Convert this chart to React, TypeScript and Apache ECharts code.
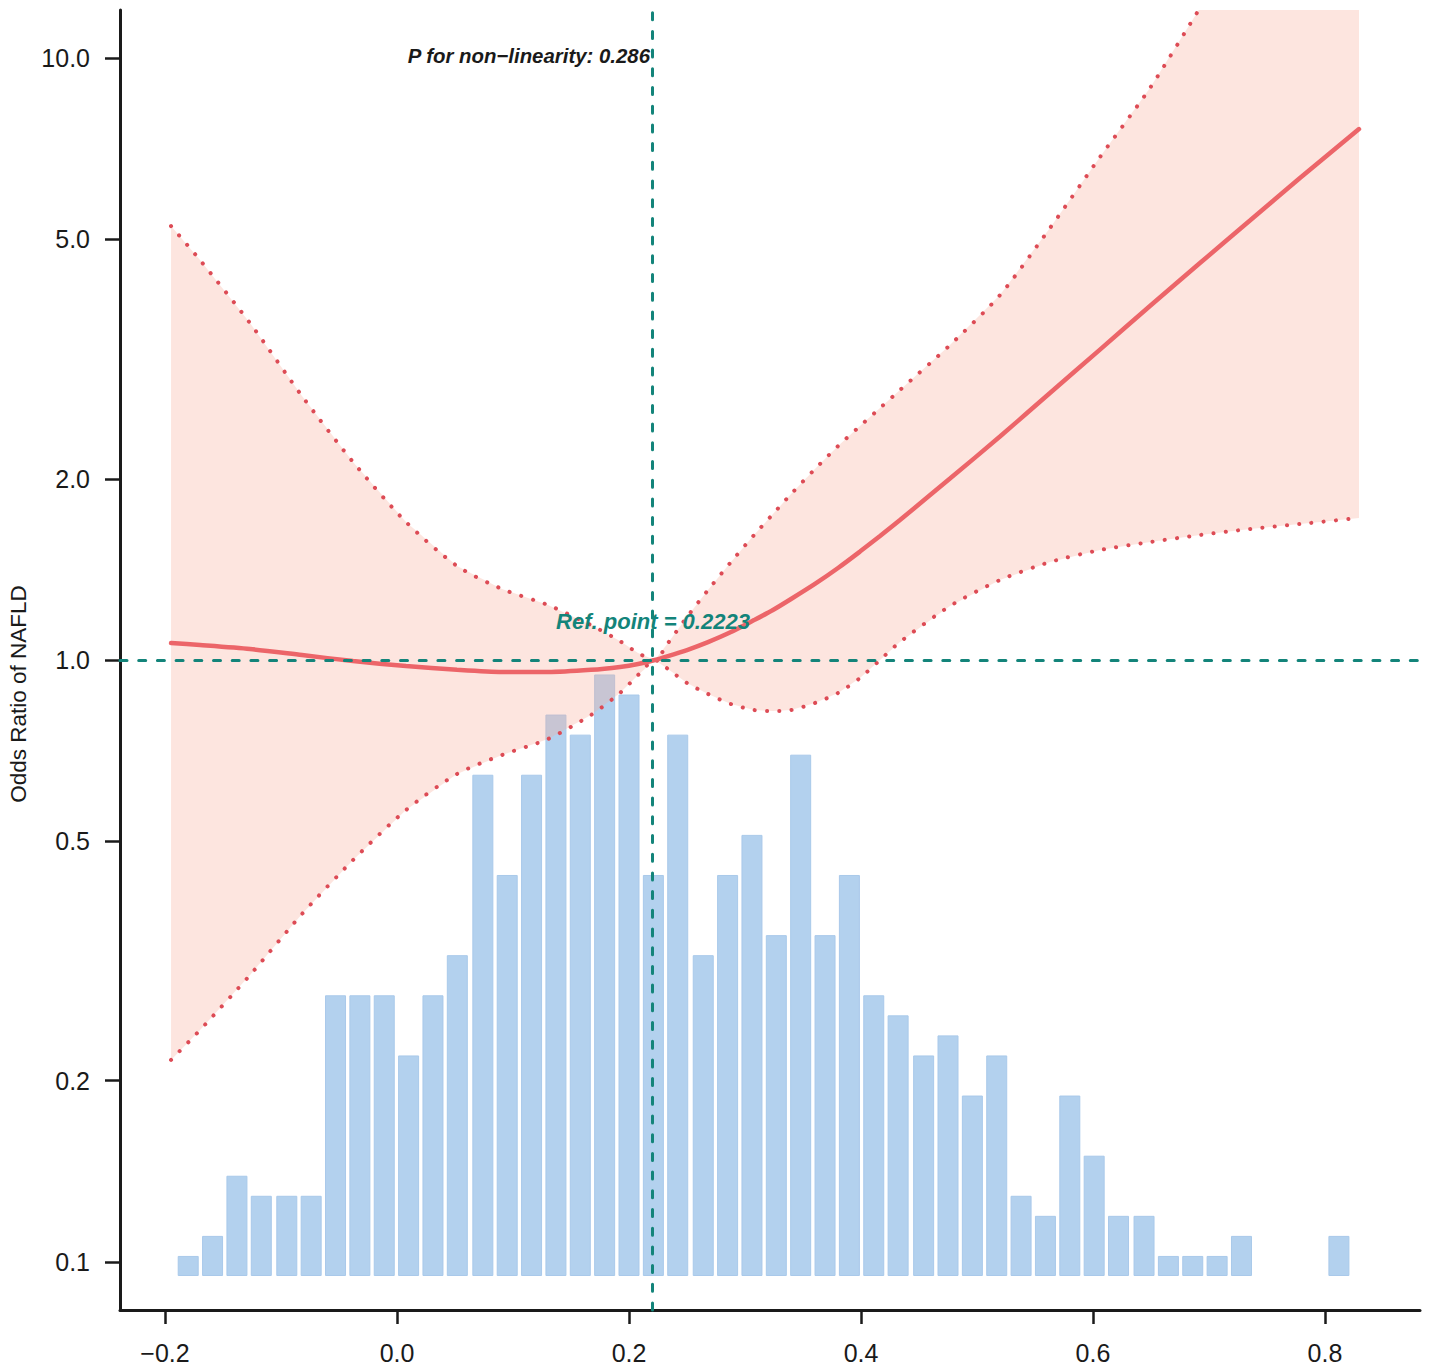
import React, { useEffect, useRef } from "react";
import * as echarts from "echarts";

// ---------- data ----------
const xTickValues = [-0.2, 0, 0.2, 0.4, 0.6, 0.8];
const xTickLabels = ["\u22120.2", "0.0", "0.2", "0.4", "0.6", "0.8"];
const yTickValues = [0.1, 0.2, 0.5, 1, 2, 5, 10];
const yTickLabels = ["0.1", "0.2", "0.5", "1.0", "2.0", "5.0", "10.0"];

const xRange = [-0.2388, 0.8819];
const orRange = [0.0832, 12.02];

const refPoint = 0.2223;
const refOR = 1;
const pNonLinearity = "0.286";

const curveX = [
  -0.1948, -0.1698, -0.1267, -0.0819, -0.0379, 0.0078, 0.0517, 0.0905, 0.1302,
  0.1672, 0.1922, 0.2078, 0.2223, 0.2336, 0.25, 0.2681, 0.2879, 0.3078, 0.3241,
  0.3397, 0.3603, 0.3802, 0.3991, 0.4164, 0.4336, 0.4767, 0.5198, 0.5629, 0.606,
  0.6491, 0.6922, 0.7353, 0.7784, 0.8293,
];
const orEstimate = [
  1.067, 1.059, 1.043, 1.019, 0.996, 0.977, 0.963, 0.955, 0.955, 0.963, 0.974,
  0.985, 1.0, 1.015, 1.039, 1.071, 1.113, 1.165, 1.211, 1.263, 1.338, 1.422,
  1.514, 1.607, 1.708, 2.002, 2.351, 2.777, 3.279, 3.873, 4.565, 5.371, 6.319,
  7.622,
];
const orLower = [
  0.2166, 0.2428, 0.2997, 0.3785, 0.4653, 0.5634, 0.6466, 0.6954, 0.7393, 0.8103,
  0.8815, 0.9442, 1.0, 0.9662, 0.9158, 0.8781, 0.8450, 0.8259, 0.8227, 0.8259,
  0.8483, 0.8815, 0.9335, 1.0, 1.0713, 1.2294, 1.358, 1.4547, 1.5231, 1.5704,
  1.6130, 1.6505, 1.6823, 1.7214,
];
const orUpper = [
  5.259, 4.618, 3.629, 2.745, 2.133, 1.695, 1.433, 1.312, 1.234, 1.143, 1.075,
  1.027, 1.0, 1.067, 1.179, 1.307, 1.455, 1.613, 1.748, 1.887, 2.076, 2.267,
  2.447, 2.622, 2.809, 3.336, 4.039, 5.219, 6.848, 8.916, 12.11, 16.44, 22.33,
  31.99,
];

const histCenters = [
  -0.18, -0.159, -0.138, -0.117, -0.095, -0.074, -0.053, -0.032, -0.011, 0.01,
  0.031, 0.052, 0.074, 0.095, 0.116, 0.137, 0.158, 0.179, 0.2, 0.221, 0.242,
  0.264, 0.285, 0.306, 0.327, 0.348, 0.369, 0.39, 0.411, 0.432, 0.454, 0.475,
  0.496, 0.517, 0.538, 0.559, 0.58, 0.601, 0.622, 0.644, 0.665, 0.686, 0.707,
  0.728, 0.749, 0.77, 0.791, 0.812,
];
const histCounts = [
  1, 2, 5, 4, 4, 4, 14, 14, 14, 11, 14, 16, 25, 20, 25, 28, 27, 30, 29, 20, 27,
  16, 20, 22, 17, 26, 17, 20, 14, 13, 11, 12, 9, 11, 4, 3, 9, 6, 3, 3, 1, 1, 1,
  2, 0, 0, 0, 2,
];
const histAxisRange = [-1.696, 63.14];

// ---------- styles ----------
const FONT = '"Liberation Sans", Arial, Helvetica, sans-serif';
const AXIS_COLOR = "#1a1a1a";
const TEAL = "#13847a";
const RED_LINE = "#ec6569";
const RED_DOT = "#dd4b55";
const BAND_FILL = "rgba(247,170,150,0.30)";
const BAR_FILL = "#b3d1ee";

export default function App() {
  const ref = useRef<HTMLDivElement>(null);

  useEffect(() => {
    if (!ref.current) return;
    const chart = echarts.init(ref.current, null, { renderer: "svg" });
    const lg = (v: number) => Math.log10(v);

    const estPts = curveX.map((x, i) => [x, lg(orEstimate[i])]);
    const lowPts = curveX.map((x, i) => [x, lg(orLower[i])]);
    const upPts = curveX.map((x, i) => [x, lg(orUpper[i])]);
    const histPts = histCenters
      .map((x, i) => [x, histCounts[i]])
      .filter((p) => p[1] > 0);

    const SMOOTH = 0.25;
    const dotted = {
      color: RED_DOT,
      width: 4,
      type: [0.1, 12.2],
      cap: "round",
    };

    const option: any = {
      animation: false,
      backgroundColor: "#ffffff",
      grid: { left: 120, right: 9, top: 10, bottom: 61, containLabel: false },
      xAxis: [
        {
          type: "value",
          min: xRange[0],
          max: xRange[1],
          axisLine: {
            show: true,
            onZero: false,
            lineStyle: { color: AXIS_COLOR, width: 3 },
          },
          axisTick: {
            show: true,
            length: 14,
            lineStyle: { color: AXIS_COLOR, width: 2.5 },
            customValues: xTickValues,
          },
          axisLabel: {
            show: true,
            margin: 30,
            fontSize: 25,
            fontFamily: FONT,
            color: AXIS_COLOR,
            customValues: xTickValues,
            formatter: (v: number) => {
              const idx = xTickValues.findIndex((t) => Math.abs(t - v) < 1e-6);
              return idx >= 0 ? xTickLabels[idx] : "";
            },
          },
          splitLine: { show: false },
        },
      ],
      yAxis: [
        {
          type: "value",
          min: lg(orRange[0]),
          max: lg(orRange[1]),
          axisLine: {
            show: true,
            onZero: false,
            lineStyle: { color: AXIS_COLOR, width: 3 },
          },
          axisTick: {
            show: true,
            length: 15,
            lineStyle: { color: AXIS_COLOR, width: 2.5 },
            customValues: yTickValues.map(lg),
          },
          axisLabel: {
            show: true,
            margin: 30,
            fontSize: 25,
            fontFamily: FONT,
            color: AXIS_COLOR,
            customValues: yTickValues.map(lg),
            formatter: (v: number) => {
              const idx = yTickValues.findIndex((t) => Math.abs(lg(t) - v) < 1e-6);
              return idx >= 0 ? yTickLabels[idx] : "";
            },
          },
          splitLine: { show: false },
        },
        {
          type: "value",
          min: histAxisRange[0],
          max: histAxisRange[1],
          show: false,
          splitLine: { show: false },
        },
      ],
      series: [
        {
          name: "hist",
          type: "bar",
          xAxisIndex: 0,
          yAxisIndex: 1,
          data: histPts,
          barWidth: 21,
          itemStyle: { color: BAR_FILL, borderColor: "#a9c9ea", borderWidth: 1 },
          emphasis: { disabled: true },
          z: 1,
        },
        {
          name: "band",
          type: "custom",
          coordinateSystem: "cartesian2d",
          xAxisIndex: 0,
          yAxisIndex: 0,
          clip: true,
          silent: true,
          data: [[refPoint, lg(refOR)]],
          renderItem: (params: any, api: any) => {
            const pts: number[][] = [];
            for (let i = 0; i < upPts.length; i++) pts.push(api.coord(upPts[i]));
            for (let i = lowPts.length - 1; i >= 0; i--) pts.push(api.coord(lowPts[i]));
            return {
              type: "polygon",
              shape: { points: pts, smooth: 0 },
              style: { fill: BAND_FILL, stroke: "none" },
            };
          },
          z: 2,
        },
        {
          name: "upper",
          type: "line",
          data: upPts,
          symbol: "none",
          smooth: SMOOTH,
          lineStyle: dotted,
          emphasis: { disabled: true },
          z: 3,
        },
        {
          name: "lower",
          type: "line",
          data: lowPts,
          symbol: "none",
          smooth: SMOOTH,
          lineStyle: dotted,
          emphasis: { disabled: true },
          z: 3,
        },
        {
          name: "estimate",
          type: "line",
          data: estPts,
          symbol: "none",
          smooth: SMOOTH,
          lineStyle: { color: RED_LINE, width: 4.5, cap: "round" },
          emphasis: { disabled: true },
          z: 4,
          markLine: {
            silent: true,
            symbol: ["none", "none"],
            label: { show: false },
            lineStyle: { color: TEAL, width: 3, type: [7, 11.7], cap: "round" },
            data: [{ xAxis: refPoint }, { yAxis: lg(refOR) }],
            z: 5,
          },
        },
      ],
      graphic: [
        {
          type: "text",
          x: 18,
          y: 694,
          rotation: Math.PI / 2,
          style: {
            text: "Odds Ratio of NAFLD",
            fontSize: 22.5,
            fontFamily: FONT,
            fill: AXIS_COLOR,
            align: "center",
            verticalAlign: "middle",
          },
          z: 10,
        },
        {
          type: "text",
          x: 650,
          y: 56,
          style: {
            text: "P for non\u2212linearity: " + pNonLinearity,
            fontSize: 20.4,
            fontWeight: "bold",
            fontStyle: "italic",
            fontFamily: FONT,
            fill: AXIS_COLOR,
            align: "right",
            verticalAlign: "middle",
          },
          z: 10,
        },
        {
          type: "text",
          x: 653,
          y: 621,
          style: {
            text: "Ref. point = " + refPoint.toFixed(4),
            fontSize: 22,
            fontWeight: "bold",
            fontStyle: "italic",
            fontFamily: FONT,
            fill: TEAL,
            align: "center",
            verticalAlign: "middle",
          },
          z: 10,
        },
      ],
    };

    chart.setOption(option);
    return () => chart.dispose();
  }, []);

  return (
    <div
      ref={ref}
      style={{ position: "absolute", left: 0, top: 0, width: 1429, height: 1371 }}
    />
  );
}
